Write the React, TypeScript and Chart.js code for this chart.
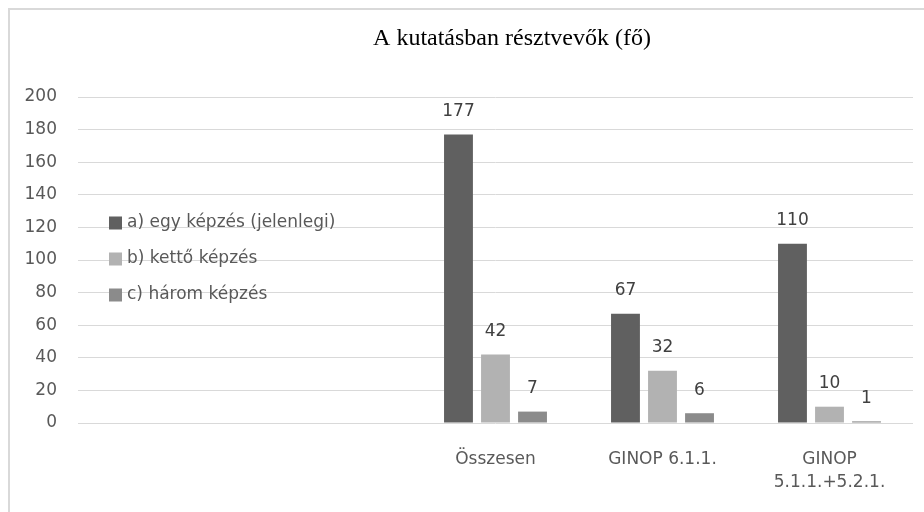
import { useEffect, useRef } from "react";
import { Chart, registerables } from "chart.js";

Chart.register(...registerables);

const titleText = "A kutatásban résztvevők (fő)";
const categories: (string | string[])[] = ["", "", "Összesen", "GINOP 6.1.1.", ["GINOP", "5.1.1.+5.2.1."]];
const seriesNames = ["a) egy képzés (jelenlegi)", "b) kettő képzés", "c) három képzés"];
const seriesA = [null, null, 177, 67, 110];
const seriesB = [null, null, 42, 32, 10];
const seriesC = [null, null, 7, 6, 1];
const seriesColors = ["#606060", "#b2b2b2", "#8b8b8b"];
const yMin = 0;
const yMax = 200;
const yStep = 20;

const FONT = "'DejaVu Sans', sans-serif";
const FONT_SIZE = 17;

const titlePlugin = {
  id: "customTitle",
  afterDraw(chart: any, _args: any, opts: any) {
    const ctx = chart.ctx;
    ctx.save();
    ctx.font = `24px 'Liberation Serif', serif`;
    ctx.fillStyle = "#000000";
    ctx.textAlign = "center";
    ctx.textBaseline = "alphabetic";
    ctx.fillText(opts.text, opts.x, opts.y);
    ctx.restore();
  },
};

const dataLabelPlugin = {
  id: "dataLabels",
  afterDatasetsDraw(chart: any, _args: any, opts: any) {
    const ctx = chart.ctx;
    ctx.save();
    ctx.font = `${FONT_SIZE}px ${FONT}`;
    ctx.fillStyle = opts.color;
    ctx.textAlign = "center";
    ctx.textBaseline = "middle";
    chart.data.datasets.forEach((ds: any, i: number) => {
      const meta = chart.getDatasetMeta(i);
      meta.data.forEach((el: any, j: number) => {
        const v = ds.data[j];
        if (v === null || v === undefined) return;
        ctx.fillText(String(v), el.x, el.y - opts.offset);
      });
    });
    ctx.restore();
  },
};

const legendPlugin = {
  id: "overlayLegend",
  afterDraw(chart: any, _args: any, opts: any) {
    const ctx = chart.ctx;
    ctx.save();
    ctx.font = `${FONT_SIZE}px ${FONT}`;
    ctx.textAlign = "left";
    ctx.textBaseline = "middle";
    chart.data.datasets.forEach((ds: any, i: number) => {
      const cy = opts.y + i * opts.spacing;
      ctx.fillStyle = ds.backgroundColor;
      ctx.fillRect(opts.x, cy - opts.box / 2, opts.box, opts.box);
      ctx.fillStyle = opts.color;
      ctx.fillText(ds.label, opts.x + opts.box + opts.gap, cy);
    });
    ctx.restore();
  },
};

export default function App() {
  const canvasRef = useRef<HTMLCanvasElement | null>(null);

  useEffect(() => {
    if (!canvasRef.current) return;
    const seriesData = [seriesA, seriesB, seriesC];
    const chart = new Chart(canvasRef.current, {
      type: "bar",
      data: {
        labels: categories,
        datasets: seriesNames.map((name, i) => ({
          label: name,
          data: seriesData[i],
          backgroundColor: seriesColors[i],
          borderWidth: 0,
          categoryPercentage: 0.665,
          barPercentage: 0.78,
        })),
      },
      options: {
        animation: false,
        responsive: false,
        layout: { padding: { top: 87, right: 11, left: 0, bottom: 0 } },
        plugins: {
          legend: { display: false },
          title: { display: false },
          tooltip: { enabled: false },
          customTitle: { text: titleText, x: 502, y: 35 },
          dataLabels: { color: "#404040", offset: 23 },
          overlayLegend: { x: 99, y: 213, spacing: 36, box: 13, gap: 5, color: "#595959" },
        } as any,
        scales: {
          x: {
            grid: { display: false, drawTicks: false },
            border: { display: false },
            ticks: {
              color: "#595959",
              font: { family: FONT, size: FONT_SIZE, lineHeight: 1.3 },
              padding: 26,
              autoSkip: false,
              maxRotation: 0,
            },
            afterFit: (scale: any) => {
              scale.height = 89;
            },
          },
          y: {
            min: yMin,
            max: yMax,
            grid: { color: "#d9d9d9", lineWidth: 1, drawTicks: false },
            border: { display: false },
            ticks: {
              stepSize: yStep,
              color: "#595959",
              font: { family: FONT, size: FONT_SIZE },
              padding: 21,
            },
            afterFit: (scale: any) => {
              scale.width = 68;
            },
          },
        },
      },
      plugins: [titlePlugin, dataLabelPlugin, legendPlugin],
    });
    return () => chart.destroy();
  }, []);

  return (
    <div
      style={{
        position: "absolute",
        left: 8,
        top: 8,
        width: 916,
        height: 504,
        borderTop: "2px solid #d9d9d9",
        borderLeft: "2px solid #d9d9d9",
        boxSizing: "border-box",
        background: "#ffffff",
      }}
    >
      <canvas ref={canvasRef} width={914} height={502} style={{ display: "block" }} />
    </div>
  );
}
